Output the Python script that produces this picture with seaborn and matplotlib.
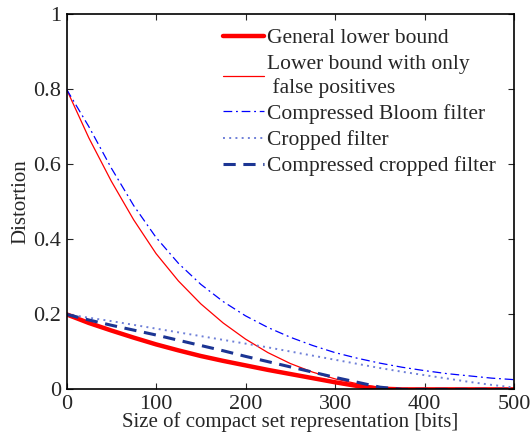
import numpy as np
import pandas as pd
import seaborn as sns
import matplotlib
matplotlib.use("Agg")
import matplotlib.pyplot as plt

# size of compact set representation [bits]
bits = [0, 25, 50, 75, 100, 125, 150, 175, 200, 225, 250,
        275, 300, 325, 350, 375, 400, 425, 450, 475, 500]

# distortion values
general_lb = [0.200, 0.177, 0.157, 0.138, 0.120, 0.104, 0.089, 0.076, 0.064, 0.052, 0.041,
              0.030, 0.019, 0.009, 0.002, 0.0, 0.0, 0.0, 0.0, 0.0, 0.0]
fp_only_lb = [0.80, 0.67, 0.555, 0.452, 0.362, 0.289, 0.228, 0.177, 0.134, 0.098, 0.069,
              0.046, 0.028, 0.015, 0.005, 0.0, 0.0, 0.0, 0.0, 0.0, 0.0]
compressed_bloom = [0.80, 0.70, 0.59, 0.49, 0.405, 0.336, 0.28, 0.234, 0.196, 0.165, 0.139,
                    0.117, 0.098, 0.083, 0.070, 0.059, 0.050, 0.042, 0.036, 0.030, 0.026]
cropped = [0.200, 0.191, 0.182, 0.172, 0.162, 0.152, 0.142, 0.132, 0.122, 0.112, 0.101,
           0.090, 0.079, 0.068, 0.057, 0.047, 0.038, 0.029, 0.020, 0.012, 0.005]
compressed_cropped = [0.200, 0.185, 0.171, 0.158, 0.145, 0.131, 0.117, 0.103, 0.088, 0.074, 0.060,
                      0.046, 0.032, 0.019, 0.006, 0.0, 0.0, 0.0, 0.0, 0.0, 0.0]

labels = ["General lower bound",
          "Lower bound with only\n false positives",
          "Compressed Bloom filter",
          "Cropped filter",
          "Compressed cropped filter"]

sns.set_style("ticks")
plt.rcParams["font.family"] = ["Liberation Serif", "DejaVu Serif"]

fig = plt.figure(figsize=(5.3, 4.42), dpi=100)
ax = fig.add_axes([0.1255, 0.119, 0.8445, 0.849])

series = [
    (general_lb, dict(color="#ff0000", lw=3.2, ls="-")),
    (fp_only_lb, dict(color="#ff0000", lw=0.9, ls="-")),
    (compressed_bloom, dict(color="#0000ff", lw=0.9, ls=(0, (7, 3, 1.5, 3)))),
    (cropped, dict(color="#6f80d8", lw=1.4, ls=(0, (1, 2.2)))),
    (compressed_cropped, dict(color="#1c3593", lw=2.2, ls=(0, (4, 2.5)))),
]
for (vals, kw), lab in zip(series, labels):
    sns.lineplot(x=bits, y=vals, ax=ax, label=lab, **kw)

ax.set_xlim(0, 500)
ax.set_ylim(0, 1)
ax.set_xticks([0, 100, 200, 300, 400, 500])
ax.set_yticks([0, 0.2, 0.4, 0.6, 0.8, 1])
ax.set_yticklabels(["0", "0.2", "0.4", "0.6", "0.8", "1"])
ax.tick_params(direction="in", top=True, right=True, labelsize=16, length=4, width=0.8, pad=4)
for sp in ax.spines.values():
    sp.set_linewidth(1.2)
    sp.set_color("black")

ax.set_xlabel("Size of compact set representation [bits]", fontsize=15, labelpad=-1)
ax.set_ylabel("Distortion", fontsize=15, labelpad=2)

leg = ax.legend(loc="upper left", bbox_to_anchor=(0.35, 0.962), frameon=False, fontsize=15.5,
                handlelength=1.9, handletextpad=0.15, labelspacing=0.28, borderpad=0,
                borderaxespad=0)
for t in leg.get_texts():
    t.set_linespacing(1.3)

fig.savefig("out.png", dpi=100)
